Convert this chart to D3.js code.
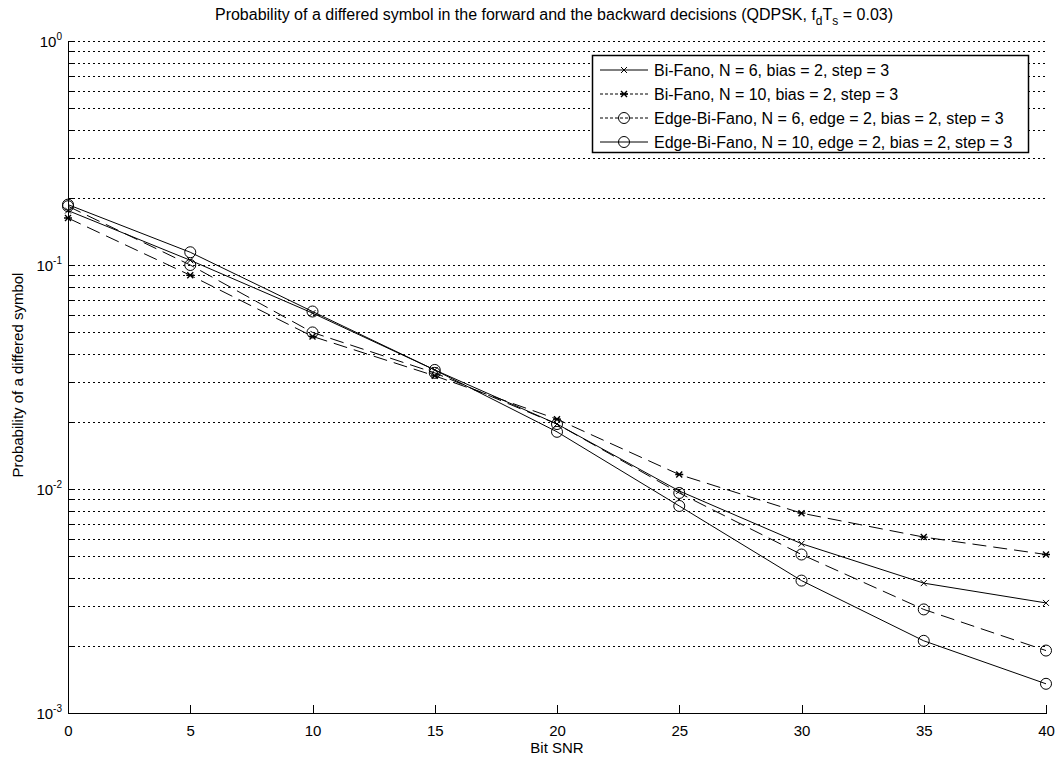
<!DOCTYPE html>
<html>
<head>
<meta charset="utf-8">
<style>
body{margin:0;background:#fff;}
svg text{font-family:"Liberation Sans",Arial,Helvetica,sans-serif;fill:#000;}
.grid line{stroke:#000;stroke-width:1;stroke-dasharray:2,3;shape-rendering:crispEdges;}
.axis path,.axis line{stroke:#000;shape-rendering:crispEdges;}
</style>
</head>
<body>
<svg id="svg"></svg>
<script src="https://cdnjs.cloudflare.com/ajax/libs/d3/7.8.5/d3.min.js"></script>
<script>
// values
var snr = [0, 5, 10, 15, 20, 25, 30, 35, 40]
var biFanoN6 = [0.175, 0.105, 0.061, 0.034, 0.0195, 0.0098, 0.0057, 0.0038, 0.0031]
var biFanoN10 = [0.162, 0.090, 0.048, 0.032, 0.0205, 0.0116, 0.0078, 0.0061, 0.0051]
var edgeN6 = [0.183, 0.100, 0.050, 0.033, 0.0195, 0.0096, 0.0051, 0.0029, 0.0019]
var edgeN10 = [0.186, 0.114, 0.062, 0.034, 0.018, 0.0084, 0.0039, 0.0021, 0.00135]
var seriesNames = [
  'Bi-Fano, N = 6, bias = 2, step = 3',
  'Bi-Fano, N = 10, bias = 2, step = 3',
  'Edge-Bi-Fano, N = 6, edge = 2, bias = 2, step = 3',
  'Edge-Bi-Fano, N = 10, edge = 2, bias = 2, step = 3'
]
var xTicks = [0, 5, 10, 15, 20, 25, 30, 35, 40]
var yExponents = [0, -1, -2, -3]

var series = [
  {name: seriesNames[0], values: biFanoN6, dash: null, marker: 'x'},
  {name: seriesNames[1], values: biFanoN10, dash: '14,7', marker: 'star'},
  {name: seriesNames[2], values: edgeN6, dash: '14,7', marker: 'o'},
  {name: seriesNames[3], values: edgeN10, dash: null, marker: 'o'}
]

var W = 1058, H = 761
var margin = {top: 41, right: 12, bottom: 48, left: 68}

var svg = d3.select('#svg').attr('width', W).attr('height', H)

var x = d3.scaleLinear().domain([0, 40]).range([margin.left, W - margin.right])
var y = d3.scaleLog().domain([1e-3, 1]).range([H - margin.bottom, margin.top])

// all log ticks (major + minor)
var yAll = []
yExponents.slice(1).forEach(function (e) {
  for (var k = 1; k < 10; k++) yAll.push(k * Math.pow(10, e))
})
yAll.push(1)

// dotted horizontal grid
svg.append('g').attr('class', 'grid')
  .selectAll('line').data(yAll).enter().append('line')
  .attr('x1', x(0)).attr('x2', x(40))
  .attr('y1', function (d) { return Math.round(y(d)) + 0.5 })
  .attr('y2', function (d) { return Math.round(y(d)) + 0.5 })

// axes
var xAxis = d3.axisBottom(x).tickValues(xTicks).tickSizeInner(-8).tickSizeOuter(0).tickPadding(12)
var gx = svg.append('g').attr('class', 'axis')
  .attr('transform', 'translate(0,' + y(1e-3) + ')')
  .call(xAxis)
gx.selectAll('text').style('font-size', '15px')
gx.select('.domain').attr('stroke-width', 1.5)

var yAxis = d3.axisLeft(y).tickValues(yAll).tickSizeInner(-7).tickSizeOuter(0).tickFormat('')
var gy = svg.append('g').attr('class', 'axis')
  .attr('transform', 'translate(' + x(0) + ',0)')
  .call(yAxis)
gy.select('.domain').attr('stroke-width', 1.5)

// y tick labels 10^n
var ylab = svg.append('g').selectAll('text').data(yExponents).enter().append('text')
  .attr('x', x(0) - 6)
  .attr('y', function (d) { return y(Math.pow(10, d)) + 6 })
  .attr('text-anchor', 'end')
  .style('font-size', '15px')
ylab.append('tspan').text('10')
ylab.append('tspan').attr('dy', -7).style('font-size', '10px').text(function (d) { return d })

// lines
var line = d3.line()
  .x(function (d, i) { return x(snr[i]) })
  .y(function (d) { return y(d) })

function drawMarker(g, type, cx, cy) {
  if (type === 'o') {
    g.append('circle').attr('cx', cx).attr('cy', cy).attr('r', 5.5)
      .attr('fill', 'none').attr('stroke', '#000').attr('stroke-width', 1)
  } else {
    var s = 3
    g.append('path')
      .attr('d', 'M' + (cx - s) + ',' + (cy - s) + 'L' + (cx + s) + ',' + (cy + s) +
        'M' + (cx - s) + ',' + (cy + s) + 'L' + (cx + s) + ',' + (cy - s) +
        (type === 'star' ? 'M' + (cx - s - 1) + ',' + cy + 'L' + (cx + s + 1) + ',' + cy : ''))
      .attr('stroke', '#000').attr('stroke-width', type === 'star' ? 1.4 : 1).attr('fill', 'none')
  }
}

series.forEach(function (s) {
  var g = svg.append('g')
  g.append('path').datum(s.values).attr('d', line)
    .attr('fill', 'none').attr('stroke', '#000').attr('stroke-width', 1)
    .attr('stroke-dasharray', s.dash)
  s.values.forEach(function (v, i) { drawMarker(g, s.marker, x(snr[i]), y(v)) })
})

// legend
var lg = svg.append('g')
lg.append('rect').attr('x', 592.5).attr('y', 55.5).attr('width', 436).attr('height', 97)
  .attr('fill', '#fff').attr('stroke', '#000').attr('stroke-width', 1.5)
series.forEach(function (s, i) {
  var ly = 70 + i * 24
  lg.append('line').attr('x1', 600).attr('x2', 648).attr('y1', ly).attr('y2', ly)
    .attr('stroke', '#000').attr('stroke-dasharray', s.dash ? '3,2' : null)
  drawMarker(lg, s.marker, 624, ly)
  lg.append('text').attr('x', 654).attr('y', ly + 6).style('font-size', '16px').text(s.name)
})

// title
var title = svg.append('text').attr('x', 554).attr('y', 20).attr('text-anchor', 'middle')
  .style('font-size', '16px')
title.append('tspan').text('Probability of a differed symbol in the forward and the backward decisions (QDPSK, f')
title.append('tspan').attr('dy', 5).style('font-size', '12px').text('d')
title.append('tspan').attr('dy', -5).text('T')
title.append('tspan').attr('dy', 5).style('font-size', '12px').text('s')
title.append('tspan').attr('dy', -5).text(' = 0.03)')

// axis labels
svg.append('text').attr('x', 557).attr('y', 753).attr('text-anchor', 'middle')
  .style('font-size', '15px').text('Bit SNR')
svg.append('text').attr('transform', 'translate(23,' + 375 + ') rotate(-90)')
  .attr('text-anchor', 'middle').style('font-size', '15px').text('Probability of a differed symbol')
</script>
</body>
</html>
